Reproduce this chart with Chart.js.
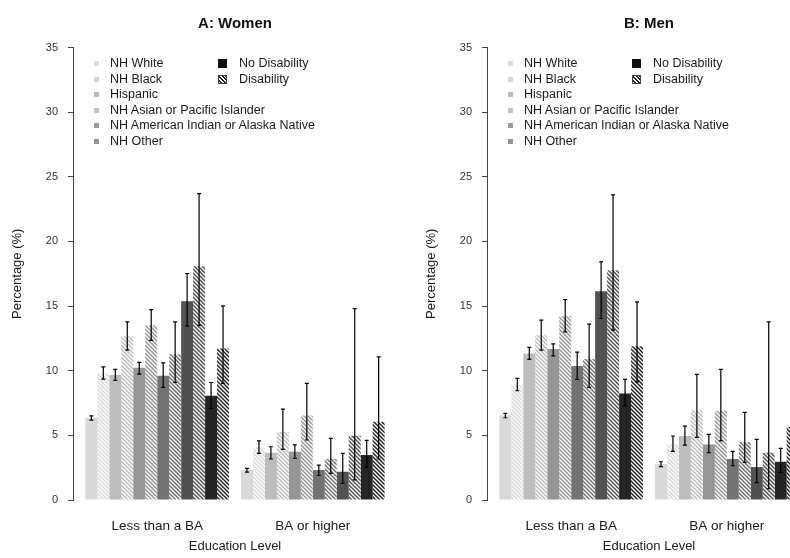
<!DOCTYPE html>
<html><head><meta charset="utf-8">
<script src="https://cdn.jsdelivr.net/npm/chart.js@4/dist/chart.umd.min.js"></script>
<style>
html,body{margin:0;padding:0;background:#fff;}
body{width:790px;height:558px;overflow:hidden;position:relative;font-family:"Liberation Sans",Arial,sans-serif;}
.panel{position:absolute;top:0;width:415px;height:558px;}
.panel canvas{position:absolute;left:0;top:0;}
.lg{position:absolute;white-space:nowrap;font-size:12.5px;color:#1a1a1a;line-height:15px;height:15px;}
.sw{position:absolute;}
</style></head><body>
<div class="panel" id="p0" style="left:0"><canvas id="c0" width="415" height="558"></canvas></div>
<div class="panel" id="p1" style="left:414px"><canvas id="c1" width="415" height="558"></canvas></div>
<script>
// ---------------- data ----------------
const categories = ['Less than a BA', 'BA or higher'];
const races = ['NH White', 'NH Black', 'Hispanic', 'NH Asian or Pacific Islander', 'NH American Indian or Alaska Native', 'NH Other'];
const statuses = ['No Disability', 'Disability'];
const panelTitles = ['A: Women', 'B: Men'];
const yTicks = [0, 5, 10, 15, 20, 25, 30, 35];

// series order: race1 no-dis, race1 dis, race2 no-dis, ... ; values per category
const womenValues = [[6.36,2.32],[9.79,4.04],[9.66,3.66],[12.67,5.26],[10.23,3.73],[13.52,6.54],[9.61,2.32],[11.28,3.17],[15.38,2.19],[18.08,4.97],[8.06,3.48],[11.72,6.05]];
const womenLow    = [[6.18,2.16],[9.35,3.61],[9.25,3.17],[11.59,3.92],[9.74,3.22],[12.34,4.64],[8.71,1.91],[9.09,2.06],[13.45,1.29],[13.5,1.55],[7.09,2.53],[9.02,3.17]];
const womenHigh   = [[6.51,2.45],[10.30,4.58],[10.10,4.12],[13.78,7.03],[10.64,4.27],[14.73,9.02],[10.61,2.70],[13.78,4.77],[17.52,3.61],[23.7,14.81],[9.09,4.61],[15.02,11.07]];

const menValues = [[6.54,2.78],[8.94,4.30],[11.33,4.95],[12.75,6.95],[11.67,4.30],[14.22,6.90],[10.36,3.17],[10.90,4.48],[16.15,2.55],[17.77,3.66],[8.24,2.96],[11.90,5.65]];
const menLow    = [[6.36,2.58],[8.45,3.76],[10.87,4.25],[11.59,4.84],[11.15,3.66],[13.01,4.58],[9.33,2.65],[8.71,2.91],[14.04,1.34],[13.14,0.87],[7.29,2.14],[9.14,3.5]];
const menHigh   = [[6.70,2.96],[9.40,4.95],[11.80,5.72],[13.91,9.71],[12.08,5.08],[15.51,10.10],[11.44,3.76],[13.60,6.78],[18.42,4.69],[23.6,13.78],[9.33,4.00],[15.33,9.5]];

// ---------------- styles ----------------
const raceColors = ['#d9d9d9','#bdbdbd','#969696','#737373','#525252','#252525'];
const legendSwatch = ['#dddddd','#d5d5d5','#bababa','#c2c2c2','#9b9b9b','#959595'];
const FONT = '"Liberation Sans", Arial, sans-serif';

function hatch(color, bg) {
  const s = 4, c = document.createElement('canvas');
  c.width = s; c.height = s;
  const g = c.getContext('2d');
  g.fillStyle = bg || '#ffffff'; g.fillRect(0,0,s,s);
  g.strokeStyle = color; g.lineWidth = 1.5;
  g.beginPath();
  g.moveTo(-1,-1); g.lineTo(s+1,s+1);
  g.moveTo(-1,s-1); g.lineTo(1,s+1);
  g.moveTo(s-1,-1); g.lineTo(s+1,1);
  g.stroke();
  return g.createPattern(c, 'repeat');
}

const errorBars = {
  id: 'errorBars',
  afterDatasetsDraw(chart, args, opts) {
    const ctx = chart.ctx, ys = chart.scales.y;
    ctx.save();
    ctx.strokeStyle = '#000'; ctx.lineWidth = 1.2;
    chart.data.datasets.forEach((ds, i) => {
      const meta = chart.getDatasetMeta(i);
      meta.data.forEach((bar, j) => {
        const x = bar.x;
        const y1 = ys.getPixelForValue(opts.low[i][j]);
        const y2 = ys.getPixelForValue(opts.high[i][j]);
        ctx.beginPath();
        ctx.moveTo(x, y1); ctx.lineTo(x, y2);
        ctx.moveTo(x-2, y1); ctx.lineTo(x+2, y1);
        ctx.moveTo(x-2, y2); ctx.lineTo(x+2, y2);
        ctx.stroke();
      });
    });
    ctx.restore();
  }
};

function buildDatasets(values) {
  const out = [];
  races.forEach((r, ri) => {
    statuses.forEach((st, si) => {
      const k = ri*2 + si;
      out.push({
        label: r + ' – ' + st,
        data: values[k].map((v, j) => ({x: j, y: v})),
        backgroundColor: si === 0 ? raceColors[ri] : hatch(raceColors[ri]),
        borderWidth: 0,
        categoryPercentage: 12/13,
        barPercentage: 1
      });
    });
  });
  return out;
}

function makeChart(canvasId, title, values, low, high) {
  return new Chart(document.getElementById(canvasId), {
    type: 'bar',
    data: { datasets: buildDatasets(values) },
    plugins: [errorBars],
    options: {
      responsive: false, animation: false, devicePixelRatio: 1,
      layout: { padding: { left: 0, right: 18, top: 0, bottom: 0 } },
      plugins: {
        legend: { display: false },
        tooltip: { enabled: false },
        title: { display: true, text: title, fullSize: false, color: '#111',
          font: { family: FONT, size: 15, weight: 'bold' }, padding: { top: 15, bottom: 14.5 } },
        errorBars: { low: low, high: high }
      },
      scales: {
        x: {
          type: 'linear', min: -0.541, max: 1.541, offset: false,
          afterBuildTicks: s => { s.ticks = categories.map((c, i) => ({ value: i })); },
          ticks: { callback: v => categories[v], font: { family: FONT, size: 13.5 }, color: '#1a1a1a', padding: 18, maxRotation: 0, autoSkip: false },
          grid: { display: false, drawTicks: false, offset: false },
          border: { display: false },
          title: { display: true, text: 'Education Level', color: '#1a1a1a', font: { family: FONT, size: 13 }, padding: { top: 4, bottom: 4 } },
          afterFit: s => { s.height = 58; }
        },
        y: {
          min: 0, max: 35,
          afterBuildTicks: s => { s.ticks = yTicks.map(v => ({ value: v })); },
          ticks: { font: { family: FONT, size: 11 }, color: '#333', padding: 10 },
          grid: { display: true, drawOnChartArea: false, drawTicks: true, tickLength: 5, color: '#444' },
          border: { display: true, color: '#444', width: 1 },
          title: { display: true, text: 'Percentage (%)', color: '#1a1a1a', font: { family: FONT, size: 13 }, padding: { top: 10, bottom: 0 } },
          afterFit: s => { s.width = 73; }
        }
      }
    }
  });
}

function makeLegend(panelId) {
  const p = document.getElementById(panelId);
  const top0 = 63.4, step = 15.6;
  races.forEach((r, i) => {
    const cy = top0 + i*step;
    const sw = document.createElement('div');
    sw.className = 'sw';
    sw.style.cssText = `left:94px;top:${cy-2.5}px;width:5px;height:5px;background:${legendSwatch[i]}`;
    p.appendChild(sw);
    const t = document.createElement('div');
    t.className = 'lg'; t.textContent = r;
    t.style.left = '110px'; t.style.top = (cy - 7.5) + 'px';
    p.appendChild(t);
  });
  statuses.forEach((st, i) => {
    const cy = top0 + i*step;
    const sw = document.createElement('div');
    sw.className = 'sw';
    const bg = i === 0 ? 'background:#111' :
      'background:repeating-linear-gradient(45deg,#fff 0px,#fff 1.2px,#222 1.2px,#222 2.6px);border:0.5px solid #444;box-sizing:border-box';
    sw.style.cssText = `left:218px;top:${cy-4.5}px;width:9px;height:9px;${bg}`;
    p.appendChild(sw);
    const t = document.createElement('div');
    t.className = 'lg'; t.textContent = st;
    t.style.left = '239px'; t.style.top = (cy - 7.5) + 'px';
    p.appendChild(t);
  });
}

makeChart('c0', panelTitles[0], womenValues, womenLow, womenHigh);
makeChart('c1', panelTitles[1], menValues, menLow, menHigh);
makeLegend('p0');
makeLegend('p1');
</script>
</body></html>
